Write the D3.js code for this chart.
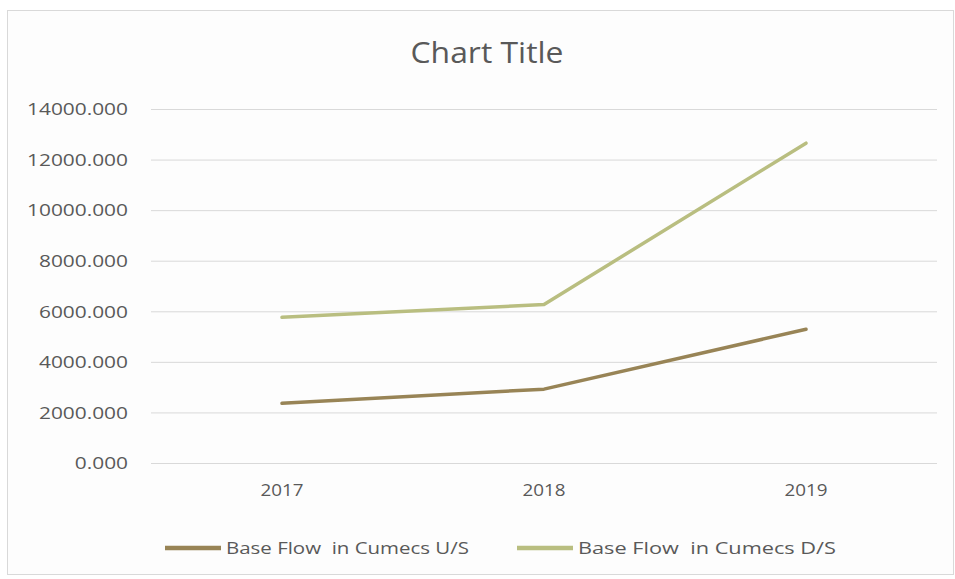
<!DOCTYPE html>
<html>
<head>
<meta charset="utf-8">
<script src="https://cdn.jsdelivr.net/npm/d3@7/dist/d3.min.js"></script>
<style>
  html, body { margin: 0; padding: 0; background: #ffffff; }
  svg { display: block; }
  text { font-family: "Open Sans", "DejaVu Sans", sans-serif; fill: #595959; }
</style>
</head>
<body>
<svg id="chart" width="955" height="579"></svg>
<script>
// ---- data ----
const categories = ["2017", "2018", "2019"];
const seriesNames = ["Base Flow  in Cumecs U/S", "Base Flow  in Cumecs D/S"];
const upstream = [2360, 2920, 5290];
const downstream = [5760, 6270, 12650];
const yTicks = [0, 2000, 4000, 6000, 8000, 10000, 12000, 14000];
const title = "Chart Title";

const colors = ["#988456", "#b9be80"];

const svg = d3.select("#chart");
const W = 955, H = 579;
const box = { x: 7, y: 10, w: 947, h: 565 };
const plot = { left: 151, right: 937, top: 109, bottom: 463 };

// chart area
svg.append("rect").attr("x", 0).attr("y", 0).attr("width", W).attr("height", H).attr("fill", "#ffffff");
svg.append("rect")
  .attr("x", box.x + 0.5).attr("y", box.y + 0.5)
  .attr("width", box.w - 1).attr("height", box.h - 1)
  .attr("fill", "#fdfdfd").attr("stroke", "#d9d9d9").attr("stroke-width", 1);

const x = d3.scaleBand().domain(categories).range([plot.left, plot.right]);
const y = d3.scaleLinear().domain([0, 14000]).range([plot.bottom, plot.top]);

function fit(sel, factor) {
  sel.each(function () {
    const n = this.getComputedTextLength();
    d3.select(this).attr("textLength", n * factor).attr("lengthAdjust", "spacingAndGlyphs");
  });
}

// gridlines + y labels via axis
const yAxis = d3.axisLeft(y).tickValues(yTicks).tickFormat(d3.format(".3f"))
  .tickSize(-(plot.right - plot.left)).tickPadding(23);
const gy = svg.append("g").attr("transform", `translate(${plot.left},0)`).call(yAxis);
gy.select(".domain").remove();
gy.selectAll(".tick line").attr("stroke", "#d9d9d9").attr("stroke-width", 1);
const yt = gy.selectAll(".tick text")
  .attr("font-size", 16).attr("fill", "#595959")
  .attr("font-family", "Open Sans, sans-serif").attr("dy", "0.36em");
{
  const n = yt.filter(d => d === 14000).node().getComputedTextLength();
  fit(yt, 101 / n);
}

// x labels via axis
const xAxis = d3.axisBottom(x).tickSize(0).tickPadding(22);
const gx = svg.append("g").attr("transform", `translate(0,${plot.bottom})`).call(xAxis);
gx.select(".domain").remove();
const xt = gx.selectAll(".tick text").attr("font-size", 16).attr("fill", "#595959")
  .attr("font-family", "Open Sans, sans-serif");
{
  const n = xt.node().getComputedTextLength();
  fit(xt, 43 / n);
}

// lines
const line = d3.line()
  .x((d, i) => x(categories[i]) + x.bandwidth() / 2)
  .y(d => y(d));
[upstream, downstream].forEach((vals, k) => {
  svg.append("path").datum(vals)
    .attr("d", line)
    .attr("fill", "none")
    .attr("stroke", colors[k])
    .attr("stroke-width", 3.5)
    .attr("stroke-linejoin", "round")
    .attr("stroke-linecap", "round");
});

// title
const t = svg.append("text").attr("x", 487).attr("y", 63).attr("text-anchor", "middle")
  .attr("font-size", 29).attr("fill", "#595959").text(title);
fit(t, 153 / t.node().getComputedTextLength());

// legend
const legendY = 548;
const legendStarts = [165, 517];
seriesNames.forEach((name, k) => {
  const g = svg.append("g");
  g.append("line")
    .attr("x1", legendStarts[k]).attr("x2", legendStarts[k] + 56)
    .attr("y1", legendY).attr("y2", legendY)
    .attr("stroke", colors[k]).attr("stroke-width", 4.5);
  const lt = g.append("text")
    .attr("x", legendStarts[k] + 61).attr("y", legendY + 6)
    .attr("font-size", 16).attr("fill", "#595959")
    .style("white-space", "pre")
    .text(name);
  fit(lt, (k === 0 ? 243 : 258) / lt.node().getComputedTextLength());
});
</script>
</body>
</html>
